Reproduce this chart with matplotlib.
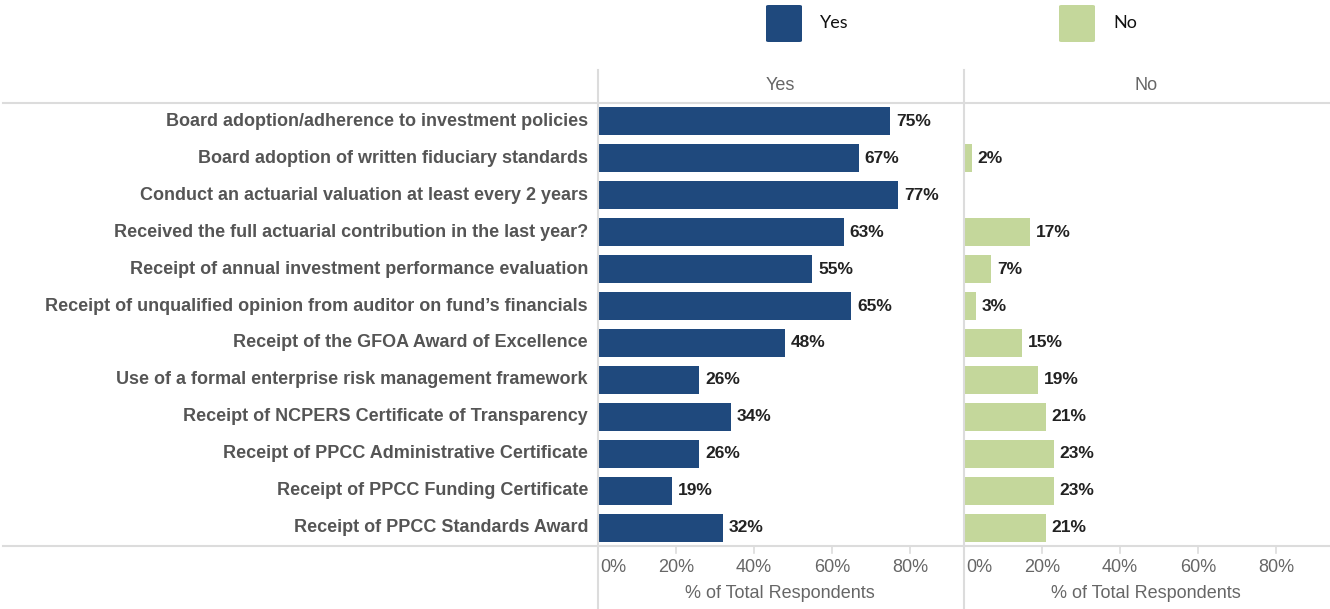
import matplotlib.pyplot as plt
import numpy as np
from matplotlib.lines import Line2D
from matplotlib.patches import FancyBboxPatch

plt.rcParams['font.family'] = ['Liberation Sans', 'DejaVu Sans']

categories = [
    "Board adoption/adherence to investment policies",
    "Board adoption of written fiduciary standards",
    "Conduct an actuarial valuation at least every 2 years",
    "Received the full actuarial contribution in the last year?",
    "Receipt of annual investment performance evaluation",
    "Receipt of unqualified opinion from auditor on fund\u2019s financials",
    "Receipt of the GFOA Award of Excellence",
    "Use of a formal enterprise risk management framework",
    "Receipt of NCPERS Certificate of Transparency",
    "Receipt of PPCC Administrative Certificate",
    "Receipt of PPCC Funding Certificate",
    "Receipt of PPCC Standards Award",
]
yes_pct = [75, 67, 77, 63, 55, 65, 48, 26, 34, 26, 19, 32]
no_pct = [np.nan, 2, np.nan, 17, 7, 3, 15, 19, 21, 23, 23, 21]
tick_vals = [0, 20, 40, 60, 80]
tick_labels = ["0%", "20%", "40%", "60%", "80%"]

YES_COLOR = "#1f497d"
NO_COLOR = "#c4d79b"
GRID = "#dcdcdc"
W, H = 1330, 609

fig = plt.figure(figsize=(13.3, 6.09), dpi=100)

def fx(px):
    return px / W

def fy(py):
    return 1 - py / H

top, bottom = 103, 546
panels = [(598, "Yes", yes_pct, YES_COLOR), (964, "No", no_pct, NO_COLOR)]
y = np.arange(len(categories))

for i, (left, title, vals, color) in enumerate(panels):
    ax = fig.add_axes([fx(left), fy(bottom), fx(365), (bottom - top) / H])
    ax.barh(y, vals, height=0.76, color=color)
    for yy, v in zip(y, vals):
        if not np.isnan(v):
            ax.annotate(f"{v:.0f}%", (v, yy), xytext=(4, 0), textcoords="offset points",
                        va="center", ha="left", fontsize=12.5, fontweight="bold", color="#222222")
    ax.set_xlim(0, 93.6)
    ax.set_ylim(len(categories) - 0.5, -0.5)
    ax.set_yticks([])
    ax.set_xticks([])
    for s in ax.spines.values():
        s.set_visible(False)
    # tick marks and tick labels below the bottom rule
    for t, lab in zip(tick_vals, tick_labels):
        xp = left + t * 365 / 93.6
        if t > 0:
            fig.add_artist(Line2D([fx(xp), fx(xp)], [fy(546), fy(553)], color=GRID, lw=1.2))
        fig.text(fx(xp + 2) if t == 0 else fx(xp), fy(568), lab,
                 ha="left" if t == 0 else "center", va="center", fontsize=13, color="#666666")
    fig.text(fx(left + 182), fy(594), "% of Total Respondents", ha="center", va="center",
             fontsize=13, color="#666666")
    fig.text(fx(left + 182), fy(85), title, ha="center", va="center", fontsize=13, color="#666666")

# category labels
for yy, cat in zip(y, categories):
    py = top + (yy + 0.5) * (bottom - top) / len(categories)
    fig.text(fx(588), fy(py), cat, ha="right", va="center", fontsize=13,
             fontweight="bold", color="#555555")

# frame rules
for py in (top, bottom):
    fig.add_artist(Line2D([fx(3), 1], [fy(py), fy(py)], color=GRID, lw=1.5))
for px in (598, 964):
    fig.add_artist(Line2D([fx(px), fx(px)], [fy(70), 0], color=GRID, lw=1.5))

# legend
for px, label, color in [(766, "Yes", YES_COLOR), (1059, "No", NO_COLOR)]:
    fig.add_artist(FancyBboxPatch((fx(px), fy(42)), fx(36), 37 / H,
                                  boxstyle="round,pad=0,rounding_size=0.002",
                                  facecolor=color, edgecolor="none"))
    fig.text(fx(px + 54), fy(23), label, ha="left", va="center", fontsize=13,
             color="#111111", family=["Lato", "DejaVu Sans"])

fig.savefig("out.png", dpi=100)
